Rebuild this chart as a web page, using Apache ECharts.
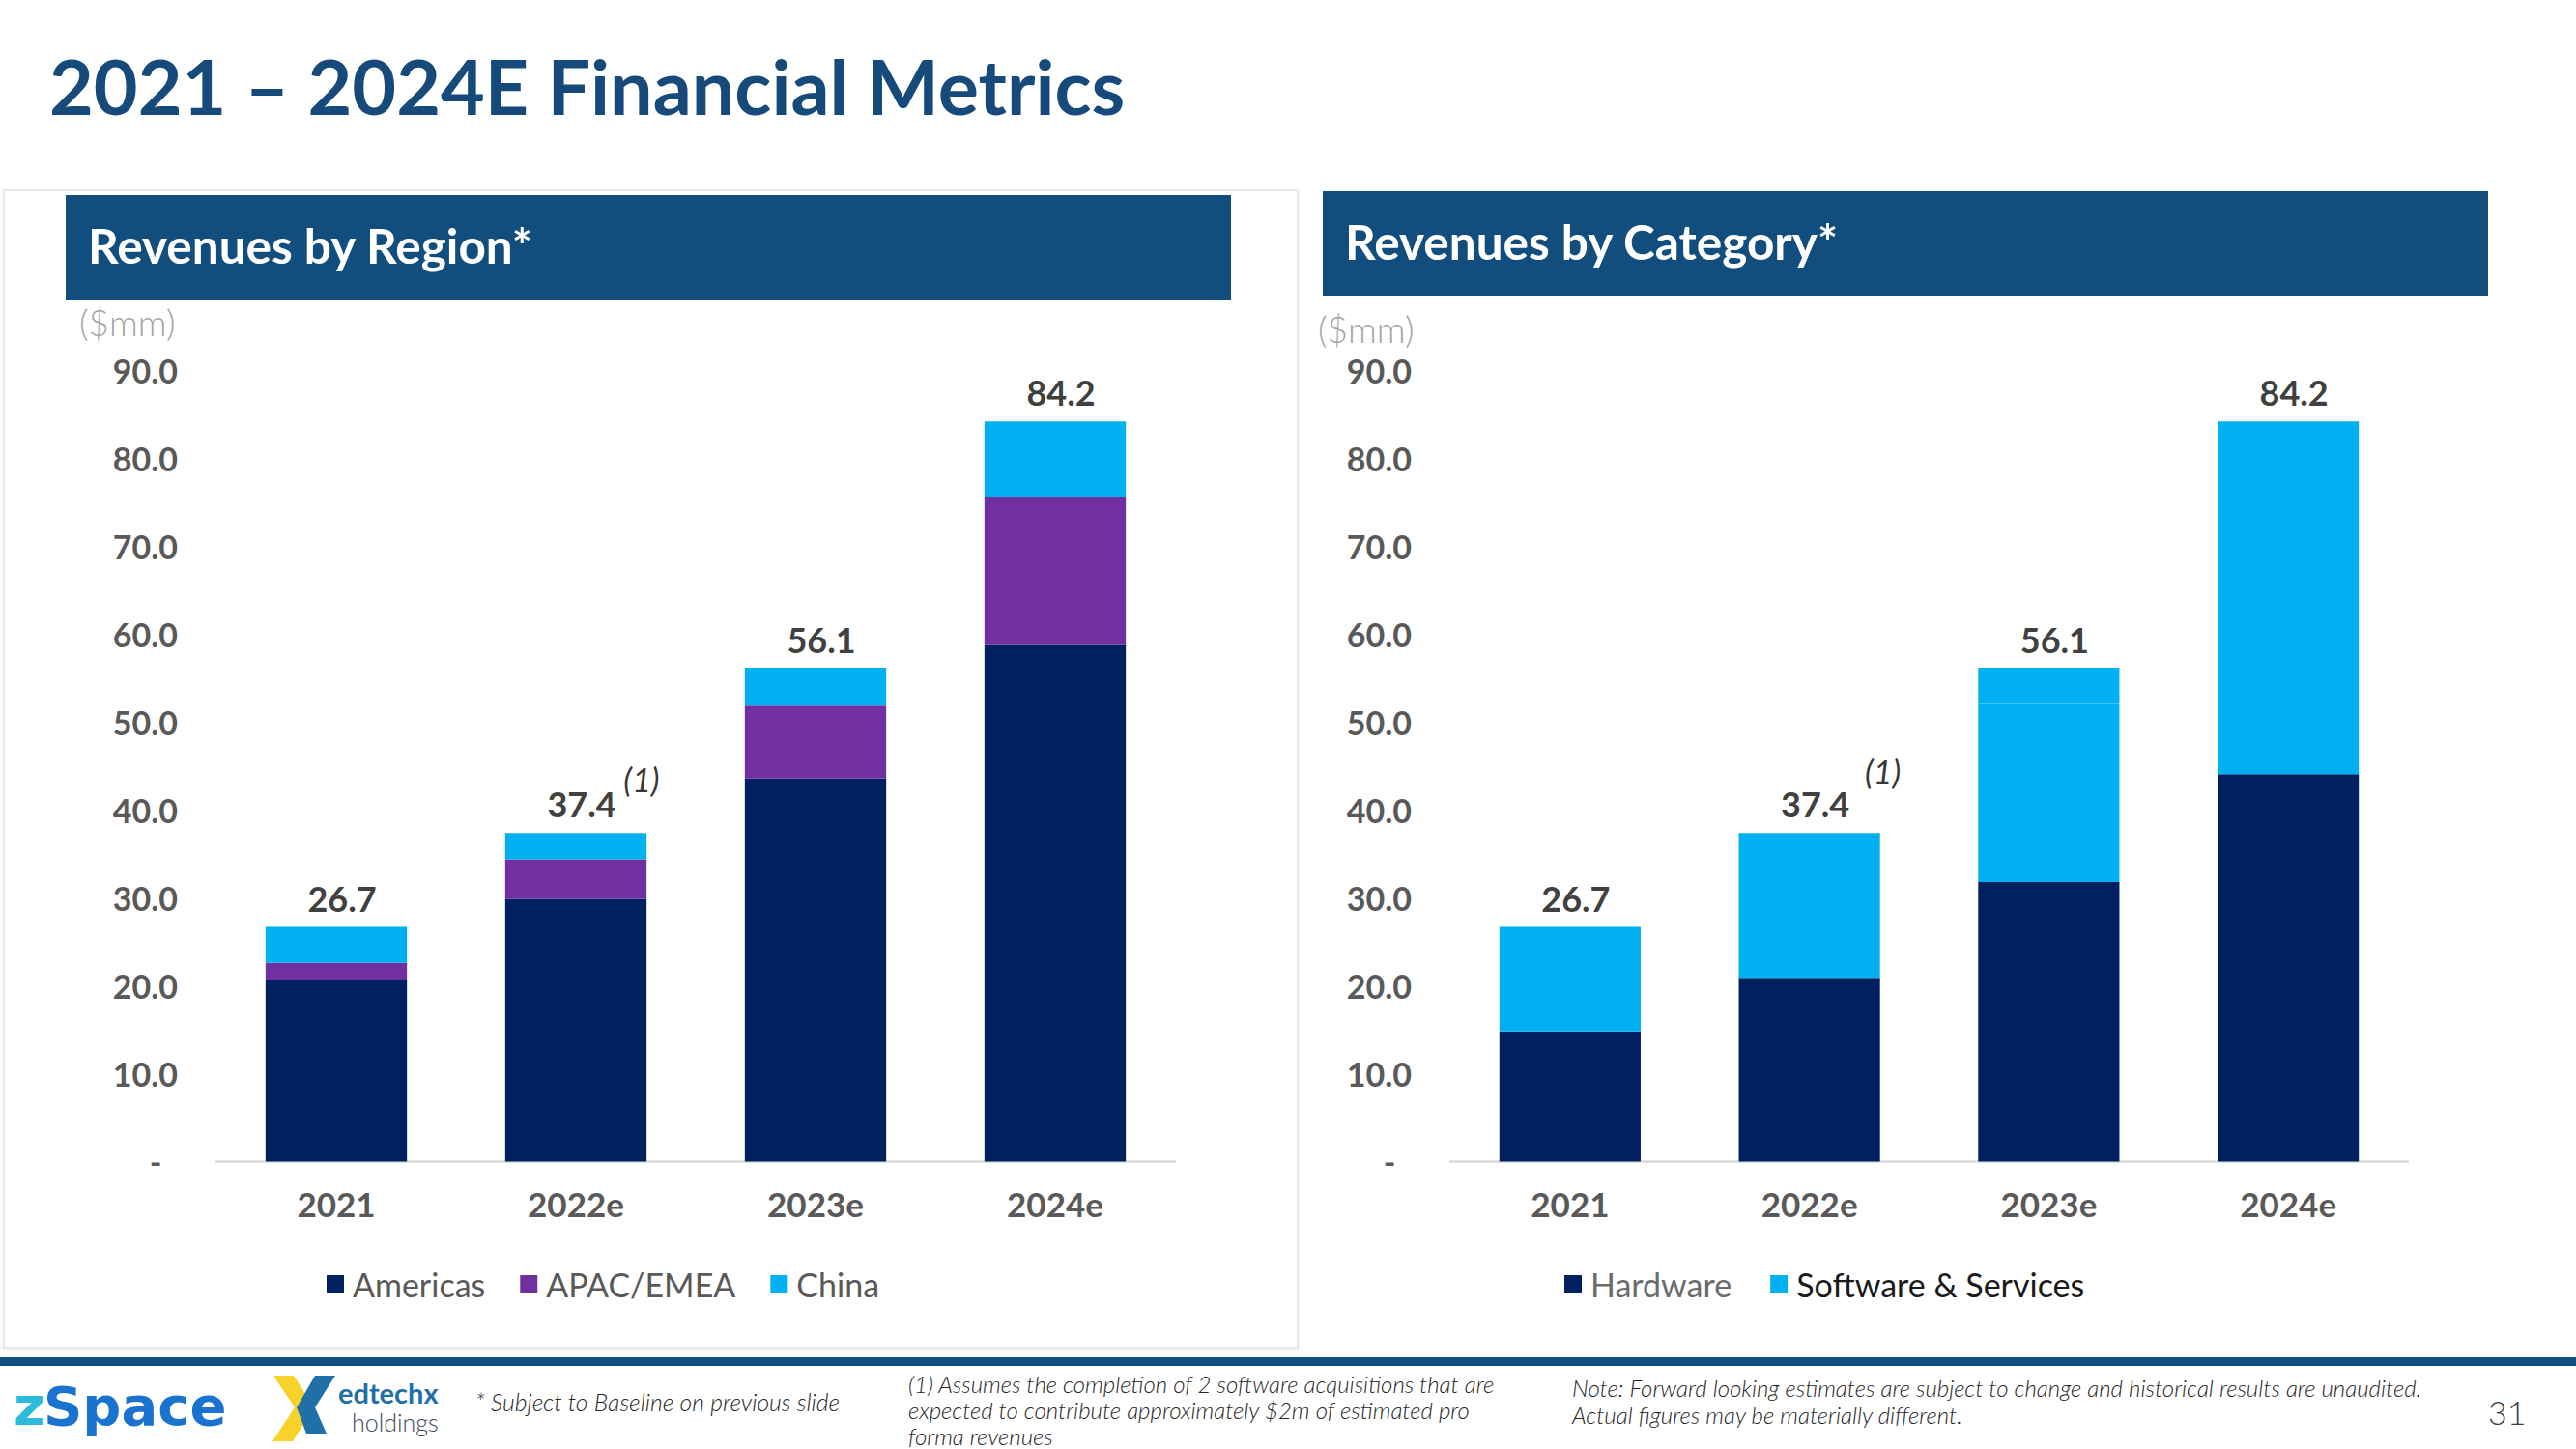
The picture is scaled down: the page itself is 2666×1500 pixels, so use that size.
<!DOCTYPE html>
<html>
<head>
<meta charset="utf-8">
<script src="https://cdn.jsdelivr.net/npm/echarts@6/dist/echarts.min.js"></script>
<style>
html,body{margin:0;padding:0;background:#fff;}
#c{width:2666px;height:1500px;}
</style>
</head>
<body>
<div id="c"></div>
<script>
// ---------- DATA ----------
const categories = ['2021', '2022e', '2023e', '2024e'];
// Revenues by Region ($mm)
const americas = [20.7, 29.9, 43.6, 58.8];
const apacEmea = [1.9, 4.5, 8.3, 16.8];
const china = [4.1, 3.0, 4.2, 8.6];
// Revenues by Category ($mm)
const hardware = [14.8, 20.9, 31.8, 44.1];
const softwareServices = [11.9, 16.5, 20.3, 34.1];
const softwareServicesOther = [0, 0, 4.0, 6.0];
// axis
const yMin = 0, yMax = 90, yInterval = 10;
const footnoteCategory = '2022e';
const footnoteMark = '(1)';

// ---------- HELPERS ----------
function totals(arrs) {
  return categories.map((_, i) => arrs.reduce((s, a) => s + a[i], 0));
}
const regionTotals = totals([americas, apacEmea, china]);
const categoryTotals = totals([hardware, softwareServices, softwareServicesOther]);

const NAVY = '#002060', PURPLE = '#7030A0', CYAN = '#00B0F0';
const BANNER = '#114D7D';
const FONT = 'Lato, "Noto Sans", sans-serif';

function xAxisCfg(gi) {
  return {
    type: 'category', gridIndex: gi, data: categories,
    axisLine: { show: true, lineStyle: { color: '#D9D9D9', width: 2.5 } },
    axisTick: { show: false },
    axisLabel: { margin: 26, color: '#595959', fontSize: 35, fontWeight: 'bold', fontFamily: FONT }
  };
}
function yAxisCfg(gi) {
  return {
    type: 'value', gridIndex: gi, min: yMin, max: yMax, interval: yInterval,
    axisLine: { show: false }, axisTick: { show: false }, splitLine: { show: false },
    axisLabel: {
      margin: 40, color: '#595959', fontSize: 34, fontWeight: 'bold', fontFamily: FONT,
      formatter: v => v === 0 ? '-\u00a0\u00a0' : v.toFixed(1)
    }
  };
}
function totalLabel(tot) {
  return {
    show: true, position: 'top', distance: 12, offset: [6, 0],
    color: '#404040', fontSize: 36, fontWeight: 'bold', fontFamily: FONT,
    formatter: p => tot[p.dataIndex].toFixed(1)
  };
}
function bar(name, data, color, gi, stack, label) {
  const s = {
    name, type: 'bar', data, stack, xAxisIndex: gi, yAxisIndex: gi,
    barWidth: '59%', itemStyle: { color }, emphasis: { disabled: true }
  };
  if (label) s.label = label;
  return s;
}
function footnoteSeries(gi, tot, offset) {
  const idx = categories.indexOf(footnoteCategory);
  return {
    name: 'footnote' + gi, type: 'scatter', xAxisIndex: gi, yAxisIndex: gi,
    symbolSize: 0, silent: true,
    data: [[footnoteCategory, tot[idx]]],
    label: {
      show: true, position: 'inside', offset, formatter: footnoteMark,
      color: '#000000', fontSize: 34, fontStyle: 'italic', fontWeight: 'normal', fontFamily: FONT
    }
  };
}
function txt(x, y, text, size, fill, extra) {
  return {
    type: 'text', x, y,
    style: Object.assign({
      text, fill, fontSize: size, fontFamily: FONT, fontWeight: 'normal', fontStyle: 'normal',
      verticalAlign: 'middle', textVerticalAlign: 'middle'
    }, extra || {})
  };
}
const ital = { fontStyle: 'italic', fontWeight: 300 };

const chart = echarts.init(document.getElementById('c'), null, { renderer: 'svg' });

chart.setOption({
  animation: false,
  backgroundColor: '#ffffff',
  grid: [
    { left: 224, top: 383.5, width: 992, height: 819, outerBoundsMode: 'none', containLabel: false },
    { left: 1501, top: 383.5, width: 991, height: 819, outerBoundsMode: 'none', containLabel: false }
  ],
  xAxis: [xAxisCfg(0), xAxisCfg(1)],
  yAxis: [yAxisCfg(0), yAxisCfg(1)],
  legend: [
    {
      left: 338, top: 1312, padding: 0, itemWidth: 18, itemHeight: 18, itemGap: 36, icon: 'rect',
      selectedMode: false,
      textStyle: { color: '#595959', fontSize: 34, fontFamily: FONT, padding: [0, 0, 0, 4] },
      data: ['Americas', 'APAC/EMEA', 'China']
    },
    {
      left: 1619, top: 1312, padding: 0, itemWidth: 18, itemHeight: 18, itemGap: 40, icon: 'rect',
      selectedMode: false,
      textStyle: { color: '#6B6B6B', fontSize: 34, fontFamily: FONT, padding: [0, 0, 0, 4] },
      data: [
        { name: 'Hardware', textStyle: { color: '#6B6B6B' } },
        { name: 'Software & Services', textStyle: { color: '#1A1A1A' } }
      ]
    }
  ],
  series: [
    bar('Americas', americas, NAVY, 0, 'region'),
    bar('APAC/EMEA', apacEmea, PURPLE, 0, 'region'),
    bar('China', china, CYAN, 0, 'region', totalLabel(regionTotals)),
    footnoteSeries(0, regionTotals, [68, -56]),
    bar('Hardware', hardware, NAVY, 1, 'category'),
    bar('Software & Services', softwareServices, CYAN, 1, 'category'),
    bar('Software & Services (other)', softwareServicesOther, CYAN, 1, 'category', totalLabel(categoryTotals)),
    footnoteSeries(1, categoryTotals, [76, -64])
  ],
  graphic: [
    // left card
    { type: 'rect', z: -10, shape: { x: 4, y: 197, width: 1339, height: 1198 },
      style: { fill: '#ffffff', stroke: '#E4E9EF', lineWidth: 2, shadowBlur: 4, shadowColor: 'rgba(0,0,0,0.08)', shadowOffsetY: 2 } },
    // title
    txt(51, 88, '2021 \u2013 2024E Financial Metrics', 79, '#154A7B', { fontWeight: 'bold' }),
    // banners
    { type: 'rect', shape: { x: 68, y: 202, width: 1206, height: 109 }, style: { fill: BANNER } },
    txt(91, 254, 'Revenues by Region*', 49.5, '#ffffff', { fontWeight: 'bold' }),
    { type: 'rect', shape: { x: 1369, y: 198, width: 1206, height: 108 }, style: { fill: BANNER } },
    txt(1392, 250, 'Revenues by Category*', 49.5, '#ffffff', { fontWeight: 'bold' }),
    // units
    txt(82, 333, '($mm)', 37, '#A6A6A6', { fontWeight: 300 }),
    txt(1364, 340, '($mm)', 37, '#A6A6A6', { fontWeight: 300 }),
    // footer bar
    { type: 'rect', shape: { x: 0, y: 1405, width: 2666, height: 9 }, style: { fill: BANNER } },
    // zSpace logo
    txt(14, 1455, 'z', 56, '#2BBCDC', { fontWeight: 'bold', fontFamily: '"DejaVu Sans", sans-serif' }),
    txt(45, 1455, 'Space', 56, '#1A73CF', { fontWeight: 'bold', fontFamily: '"DejaVu Sans", sans-serif' }),
    // edtechx X mark
    { type: 'polygon', shape: { points: [[283,1424],[304,1424],[325,1457],[303,1492],[282,1492],[305,1457]] },
      style: { fill: '#F7D22A' } },
    { type: 'polygon', shape: { points: [[326,1424],[347,1424],[326,1457],[338,1484],[317,1484],[307,1457]] },
      style: { fill: '#1F6FA8' } },
    txt(350, 1441, 'edtechx', 29, '#1F6FA8', { fontWeight: 'bold' }),
    txt(364, 1472, 'holdings', 25, '#3D4B5C', { fontWeight: 300 }),
    // footnotes
    txt(492, 1451, '* Subject to Baseline on previous slide', 24.7, '#262626', ital),
    txt(940, 1432, '(1) Assumes the completion of 2 software acquisitions that are', 24, '#262626', ital),
    txt(940, 1459, 'expected to contribute approximately $2m of estimated pro', 24, '#262626', ital),
    txt(940, 1486, 'forma revenues', 24, '#262626', ital),
    txt(1627, 1436, 'Note: Forward looking estimates are subject to change and historical results are unaudited.', 24, '#262626', ital),
    txt(1627, 1464, 'Actual figures may be materially different.', 24, '#262626', ital),
    txt(2575, 1461, '31', 34, '#404040', { fontWeight: 300 })
  ]
});
</script>
</body>
</html>
